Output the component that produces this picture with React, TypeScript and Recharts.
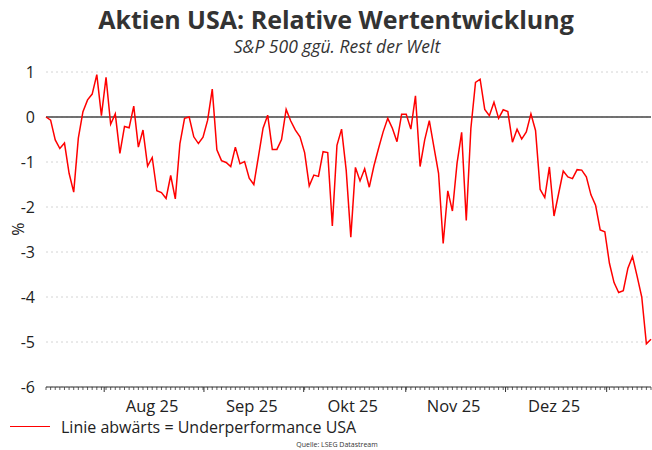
import { LineChart, Line, XAxis, YAxis, CartesianGrid, ReferenceLine } from "recharts";

// S&P 500 vs. Rest der Welt, relative Wertentwicklung in %, Handelstage ab Mitte Juli 2025
const values = [
  0.0, -0.07, -0.51, -0.7, -0.58, -1.25, -1.67, -0.47, 0.12, 0.38,
  0.51, 0.94, 0.03, 0.88, -0.16, 0.07, -0.81, -0.21, -0.24, 0.24,
  -0.67, -0.29, -1.09, -0.9, -1.64, -1.68, -1.81, -1.3, -1.82, -0.59,
  -0.03, 0.0, -0.44, -0.59, -0.45, -0.07, 0.62, -0.73, -0.97, -1.01,
  -1.1, -0.67, -1.04, -0.99, -1.36, -1.5, -0.88, -0.25, 0.04, -0.72,
  -0.72, -0.5, 0.17, -0.09, -0.29, -0.44, -0.79, -1.53, -1.29, -1.32,
  -0.77, -0.79, -2.42, -0.63, -0.27, -1.18, -2.67, -1.12, -1.42, -1.15,
  -1.56, -1.09, -0.7, -0.33, -0.03, -0.25, -0.55, 0.06, 0.06, -0.27,
  0.47, -1.1, -0.51, -0.08, -0.67, -1.25, -2.81, -1.64, -2.09, -1.03,
  -0.34, -2.3, -0.25, 0.77, 0.84, 0.17, 0.03, 0.33, -0.03, 0.16,
  0.12, -0.56, -0.27, -0.49, -0.33, 0.07, -0.3, -1.61, -1.79, -1.11,
  -2.2, -1.7, -1.2, -1.33, -1.37, -1.17, -1.18, -1.33, -1.73, -1.96,
  -2.51, -2.55, -3.25, -3.68, -3.9, -3.86, -3.36, -3.1, -3.54, -4.0,
  -5.04, -4.94,
];

const monthLabels = ["Aug 25", "Sep 25", "Okt 25", "Nov 25", "Dez 25"];
// Monatsgrenzen in Handelstagen (Index)
const monthStarts = [12.6, 34.2, 55.8, 77.9, 99.5, 121.4];
const yTicks = [1, 0, -1, -2, -3, -4, -5, -6];

const data = values.map((v, i) => ({ i, v }));
const labelPos = monthLabels.map((_, k) => (monthStarts[k] + monthStarts[k + 1]) / 2);
const xTicks = Array.from(new Set([...values.map((_, i) => i), ...monthStarts, ...labelPos])).sort((a, b) => a - b);

const font = "'Open Sans', sans-serif";

function MonthTick({ x, y, payload }: any) {
  const v = payload.value;
  const li = labelPos.findIndex((p) => Math.abs(p - v) < 1e-6);
  const isStart = monthStarts.some((p) => Math.abs(p - v) < 1e-6);
  const isDay = Number.isInteger(v);
  return (
    <g>
      {isDay && <line x1={x} x2={x} y1={y} y2={y + 3} stroke="#333" strokeWidth={0.8} />}
      {isStart && <line x1={x} x2={x} y1={y} y2={y + 5} stroke="#333" strokeWidth={1} />}
      {li >= 0 && (
        <text x={x - 2} y={y + 25} textAnchor="middle" fontSize={16.5} fill="#222" fontFamily={font}>
          {monthLabels[li]}
        </text>
      )}
    </g>
  );
}

export default function App() {
  return (
    <div style={{ position: "absolute", left: 0, top: 0, width: 652, height: 450, background: "#fff", fontFamily: font }}>
      <div style={{ position: "absolute", left: 0, width: 672, top: 2, textAlign: "center", fontSize: 25, fontWeight: 700, color: "#333", lineHeight: "34px", whiteSpace: "nowrap" }}>
        Aktien USA: Relative Wertentwicklung
      </div>
      <div style={{ position: "absolute", left: 0, width: 674, top: 35, textAlign: "center", fontSize: 17.5, fontStyle: "italic", color: "#333", lineHeight: "22px", whiteSpace: "nowrap" }}>
        S&amp;P 500 ggü. Rest der Welt
      </div>
      <div style={{ position: "absolute", left: 8, top: 219, width: 20, height: 20, fontSize: 16, color: "#222", transform: "rotate(-90deg)", textAlign: "center", lineHeight: "20px" }}>
        %
      </div>
      <LineChart width={652} height={450} data={data} margin={{ top: 72, right: 1, bottom: 33, left: 0 }} style={{ position: "absolute", left: 0, top: 0 }}>
        <CartesianGrid horizontal vertical={false} stroke="#d4d4d4" strokeDasharray="2 3" />
        <YAxis
          type="number"
          domain={[-6, 1]}
          ticks={yTicks}
          interval={0}
          width={46}
          axisLine={false}
          tickLine={false}
          tickSize={6}
          tickMargin={5}
          tick={{ fontSize: 16, fill: "#222", fontFamily: font }}
        />
        <XAxis
          type="number"
          dataKey="i"
          domain={[0, values.length - 1]}
          ticks={xTicks}
          interval={0}
          height={30}
          tickSize={0}
          tickMargin={0}
          tickLine={false}
          axisLine={{ stroke: "#333", strokeWidth: 1 }}
          tick={<MonthTick />}
        />
        <ReferenceLine y={0} stroke="#444" strokeWidth={1.5} />
        <Line type="linear" dataKey="v" stroke="#ff0000" strokeWidth={1.5} dot={false} isAnimationActive={false} />
      </LineChart>
      <div style={{ position: "absolute", left: 10, top: 426, width: 40, height: 0, borderTop: "1.5px solid #ff0000" }} />
      <div style={{ position: "absolute", left: 61, top: 416, fontSize: 16, color: "#222", lineHeight: "22px", whiteSpace: "nowrap" }}>
        Linie abwärts = Underperformance USA
      </div>
      <div style={{ position: "absolute", left: 0, width: 674, top: 440, textAlign: "center", fontSize: 7, color: "#333" }}>
        Quelle: LSEG Datastream
      </div>
    </div>
  );
}
